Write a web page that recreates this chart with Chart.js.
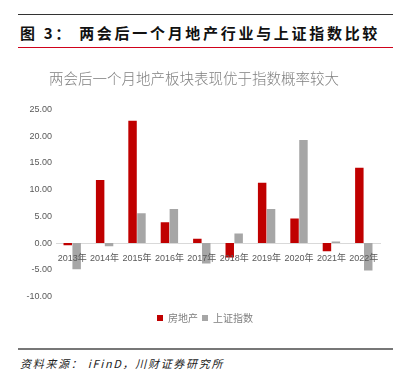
<!DOCTYPE html>
<html>
<head>
<meta charset="utf-8">
<script src="https://cdn.jsdelivr.net/npm/chart.js@4/dist/chart.umd.min.js"></script>
<style>
  body { margin: 0; background: #fff; width: 405px; height: 379px; position: relative; overflow: hidden; }
  .topline { position: absolute; left: 18px; width: 375px; top: 14px; height: 1px; background: #333; }
  .head { position: absolute; left: 20px; top: 22px; font: bold 15px "Noto Sans CJK SC"; letter-spacing: 2.7px; color: #111; white-space: nowrap; }
  .redline { position: absolute; left: 18px; width: 375px; top: 47px; height: 1px; background: #d0021b; }
  .botline { position: absolute; left: 18px; width: 375px; top: 348px; height: 2px; background: #777; }
  .source { position: absolute; left: 20px; top: 355px; font: italic 11px "Noto Sans CJK SC"; letter-spacing: 1.7px; color: #222; white-space: nowrap; }
  #wrap { position: absolute; left: 0; top: 58px; width: 405px; height: 275px; }
</style>
</head>
<body>
<div class="topline"></div>
<div class="head">图 3： 两会后一个月地产行业与上证指数比较</div>
<div class="redline"></div>
<div id="wrap"><canvas id="chart"></canvas></div>
<div class="botline"></div>
<div class="source">资料来源： iFinD，川财证券研究所</div>
<script>
// 年份
const years = ['2013年', '2014年', '2015年', '2016年', '2017年', '2018年', '2019年', '2020年', '2021年', '2022年'];
// 两会后一个月涨跌幅(%)
const realEstate = [-0.4, 11.8, 22.9, 3.9, 0.8, -2.7, 11.3, 4.6, -1.5, 14.1];
const shIndex = [-4.9, -0.6, 5.6, 6.4, -3.8, 1.8, 6.4, 19.3, 0.3, -5.1];
const yMin = -10, yMax = 25, yStep = 5;

const tickFont = { family: '"Liberation Sans", "Noto Sans CJK SC"', size: 9 };

// nudge legend so it sits centred under the page, like the original
const legendShift = {
    id: 'legendShift',
    afterLayout(chart) {
        chart.legend.left += 11;
        chart.legend.right += 11;
    }
};

var ctx = document.getElementById('chart').getContext('2d');
new Chart(ctx, {
    type: 'bar',
    data: {
        labels: years,
        datasets: [
            { label: '房地产', data: realEstate, backgroundColor: '#c00000' },
            { label: '上证指数', data: shIndex, backgroundColor: '#a6a6a6' }
        ]
    },
    options: {
        responsive: true,
        maintainAspectRatio: false,
        animation: false,
        layout: { padding: { left: 8, right: 25, top: 0, bottom: 0 } },
        datasets: { bar: { categoryPercentage: 0.55, barPercentage: 0.95 } },
        plugins: {
            title: {
                display: true,
                text: '两会后一个月地产板块表现优于指数概率较大',
                color: '#808080',
                font: { family: 'Noto Sans CJK SC', size: 14.5, weight: 300 },
                padding: { top: 12, bottom: 22 }
            },
            legend: {
                position: 'bottom',
                title: { display: true, text: ' ', font: { size: 2 }, padding: 5 },
                labels: {
                    boxWidth: 6, boxHeight: 6, padding: 4,
                    color: '#7f7f7f',
                    font: { family: 'Noto Sans CJK SC', size: 10 }
                }
            },
            tooltip: { enabled: false }
        },
        scales: {
            x: {
                position: { y: 0 },
                grid: { display: false },
                border: { color: '#d9d9d9', width: 1 },
                ticks: { z: 1, color: '#595959', font: tickFont, padding: 2, maxRotation: 0, autoSkip: false }
            },
            y: {
                min: yMin, max: yMax,
                afterFit: s => { s.width = 48; },
                grid: { display: false, drawTicks: false },
                border: { display: false },
                ticks: {
                    stepSize: yStep,
                    padding: 4,
                    color: '#595959',
                    font: tickFont,
                    callback: v => v.toFixed(2)
                }
            }
        }
    },
    plugins: [legendShift]
});
</script>
</body>
</html>
